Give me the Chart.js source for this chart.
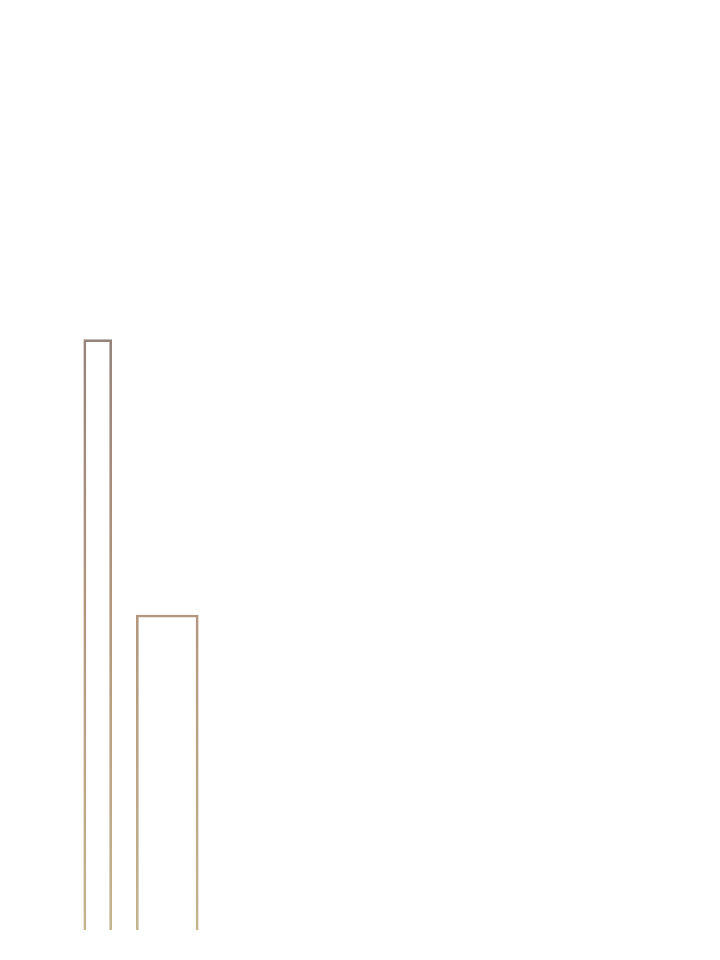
<!DOCTYPE html>
<html>
<head>
<meta charset="utf-8">
<script src="https://cdn.jsdelivr.net/npm/chart.js@4/dist/chart.umd.min.js"></script>
<style>
    html, body { margin: 0; padding: 0; background: #fff; }
    canvas { display: block; }
</style>
</head>
<body>
<canvas id="chart" width="720" height="960"></canvas>
<script>
const categories = ['A', 'B'];
const seriesOne = [65.6, null];
const seriesTwo = [null, 35.0];
const yMax = 100;

// vertical stroke gradient, greyish mauve at top to khaki tan at the bottom
function strokeGradient(context) {
    const chart = context.chart;
    const area = chart.chartArea;
    if (!area) return '#b09878';
    const g = chart.ctx.createLinearGradient(0, area.top + 310, 0, area.bottom);
    g.addColorStop(0, '#95837c');
    g.addColorStop(0.45, '#b3957c');
    g.addColorStop(1, '#c3b58e');
    return g;
}

const ctx = document.getElementById('chart');
new Chart(ctx, {
    type: 'bar',
    data: {
        labels: categories,
        datasets: [{
            data: seriesOne,
            barThickness: 28,
            borderWidth: 2,
            borderColor: strokeGradient,
            backgroundColor: 'rgba(255, 255, 255, 0)'
        }, {
            data: seriesTwo,
            barThickness: 62,
            borderWidth: 2,
            borderColor: strokeGradient,
            backgroundColor: 'rgba(255, 255, 255, 0)'
        }]
    },
    options: {
        responsive: false,
        animation: false,
        layout: { padding: { left: 63, right: 518, top: 30, bottom: 30 } },
        datasets: { bar: { grouped: false } },
        plugins: {
            legend: { display: false },
            tooltip: { enabled: false }
        },
        scales: {
            x: { display: false },
            y: { display: false, min: 0, max: yMax }
        }
    }
});
</script>
</body>
</html>
